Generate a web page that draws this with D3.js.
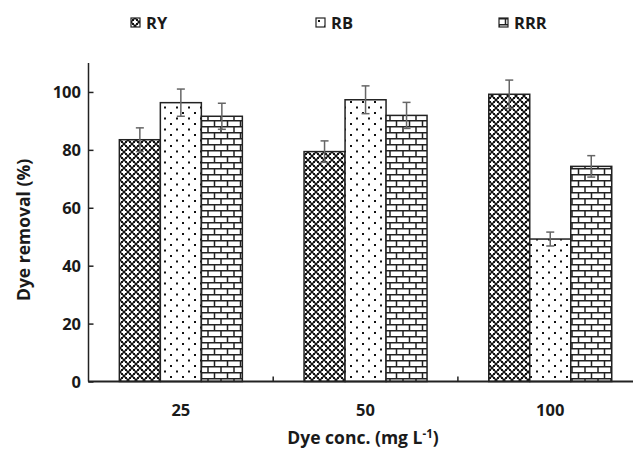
<!DOCTYPE html>
<meta charset="utf-8">
<html>
<script src="https://cdn.jsdelivr.net/npm/d3@7"></script>
<style>
body { margin: 0; background: #fff; }
svg text { font-family: "Open Sans", sans-serif; font-weight: 700; fill: #1a1a1a; }
</style>
<body>
<svg id="chart" width="633" height="451"></svg>
<script type="text/javascript">

// data
var categories = ["25", "50", "100"];
var seriesNames = ["RY", "RB", "RRR"];
var ryValues  = [83.5, 79.4, 99.2];
var rbValues  = [96.3, 97.3, 49.2];
var rrrValues = [91.6, 91.9, 74.3];
var ryErr  = [4.1, 3.7, 4.9];
var rbErr  = [4.7, 4.8, 2.4];
var rrrErr = [4.5, 4.5, 3.7];
var yTicks = [0, 20, 40, 60, 80, 100];

var seriesVals = [ryValues, rbValues, rrrValues];
var seriesErr = [ryErr, rbErr, rrrErr];
var patternIds = ["patRY", "patRB", "patRRR"];

var svg = d3.select("#chart");

//////////////////////// patterns ////////////////////////
var defs = svg.append("defs");

// RY: black with white crosses
var p1 = defs.append("pattern").attr("id", "patRY").attr("patternUnits", "userSpaceOnUse")
	.attr("width", 8).attr("height", 8);
p1.append("rect").attr("width", 8).attr("height", 8).attr("fill", "#111");
[[0, 0], [4, 4], [8, 0], [0, 8], [8, 8]].forEach(function(c) {
	p1.append("rect").attr("x", c[0] - 1).attr("y", c[1] - 2.5).attr("width", 2).attr("height", 5).attr("fill", "#fff");
	p1.append("rect").attr("x", c[0] - 2.5).attr("y", c[1] - 1).attr("width", 5).attr("height", 2).attr("fill", "#fff");
});

// RB: sparse dots
var p2 = defs.append("pattern").attr("id", "patRB").attr("patternUnits", "userSpaceOnUse")
	.attr("width", 12).attr("height", 11);
p2.append("rect").attr("width", 12).attr("height", 11).attr("fill", "#fff");
p2.append("rect").attr("x", 2).attr("y", 2).attr("width", 2).attr("height", 2).attr("fill", "#111");
p2.append("rect").attr("x", 8).attr("y", 7.5).attr("width", 2).attr("height", 2).attr("fill", "#111");

// RRR: bricks
var p3 = defs.append("pattern").attr("id", "patRRR").attr("patternUnits", "userSpaceOnUse")
	.attr("width", 26).attr("height", 12);
p3.append("rect").attr("width", 26).attr("height", 12).attr("fill", "#fff");
p3.append("path")
	.attr("d", "M0,0.75H26 M0,6.75H26 M6.5,0V6 M19.5,0V6 M0,6V12 M13,6V12 M26,6V12")
	.attr("stroke", "#222").attr("stroke-width", 1.5).attr("fill", "none");

//////////////////////// scales ////////////////////////
var x = d3.scaleBand().domain(categories).range([88.5, 642.6]).padding(0);
var bw = x.bandwidth();
var xs = d3.scaleBand().domain(seriesNames).range([bw / 2 - 61.5, bw / 2 + 61.5]).padding(0);
var y = d3.scaleLinear().domain([0, 110]).range([381.5, 63]);

//////////////////////// bars ////////////////////////
var g = svg.append("g");
seriesNames.forEach(function(s, si) {
	var rows = categories.map(function(c, ci) {
		return {cat: c, v: seriesVals[si][ci], e: seriesErr[si][ci]};
	});
	g.selectAll(".bar-" + s).data(rows).enter()
		.append("rect")
		.attr("x", function(d) { return x(d.cat) + xs(s); })
		.attr("y", function(d) { return y(d.v); })
		.attr("width", xs.bandwidth())
		.attr("height", function(d) { return y(0) - y(d.v); })
		.attr("fill", "url(#" + patternIds[si] + ")")
		.attr("stroke", "#222").attr("stroke-width", 1.5);

	// error bars
	var eb = g.selectAll(".err-" + s).data(rows).enter().append("g");
	eb.append("line")
		.attr("x1", function(d) { return x(d.cat) + xs(s) + xs.bandwidth() / 2; })
		.attr("x2", function(d) { return x(d.cat) + xs(s) + xs.bandwidth() / 2; })
		.attr("y1", function(d) { return y(d.v - d.e); })
		.attr("y2", function(d) { return y(d.v + d.e); })
		.attr("stroke", "#666").attr("stroke-width", 1.5);
	[-1, 1].forEach(function(k) {
		eb.append("line")
			.attr("x1", function(d) { return x(d.cat) + xs(s) + xs.bandwidth() / 2 - 4; })
			.attr("x2", function(d) { return x(d.cat) + xs(s) + xs.bandwidth() / 2 + 4; })
			.attr("y1", function(d) { return y(d.v + k * d.e); })
			.attr("y2", function(d) { return y(d.v + k * d.e); })
			.attr("stroke", "#666").attr("stroke-width", 1.5);
	});
});

//////////////////////// axes ////////////////////////
var yAxis = d3.axisRight(y).tickValues(yTicks).tickSize(5).tickFormat("");
var yg = svg.append("g").attr("transform", "translate(88.5,0)").call(yAxis);
yg.select(".domain").attr("d", "M0," + y(110) + "V" + y(0)).attr("stroke", "#222").attr("stroke-width", 1.5);
yg.selectAll(".tick line").attr("stroke", "#222").attr("stroke-width", 1.5);

svg.append("g").selectAll("text").data(yTicks).enter()
	.append("text")
	.attr("x", 81).attr("y", function(d) { return y(d) + 6; })
	.attr("text-anchor", "end").attr("font-size", 16.5)
	.text(function(d) { return d; });

// x axis: tick marks between categories
svg.append("line").attr("x1", 88).attr("x2", 633).attr("y1", y(0)).attr("y2", y(0))
	.attr("stroke", "#222").attr("stroke-width", 2);
svg.append("g").selectAll("line").data(categories.slice(1)).enter()
	.append("line")
	.attr("x1", function(d) { return x(d); }).attr("x2", function(d) { return x(d); })
	.attr("y1", y(0)).attr("y2", y(0) - 5)
	.attr("stroke", "#222").attr("stroke-width", 1.5);

svg.append("g").selectAll("text").data(categories).enter()
	.append("text")
	.attr("x", function(d) { return x(d) + bw / 2; }).attr("y", 416)
	.attr("text-anchor", "middle").attr("font-size", 16.5)
	.text(function(d) { return d; });

// axis titles
var xt = svg.append("text").attr("x", 363).attr("y", 444).attr("text-anchor", "middle").attr("font-size", 17.5);
xt.append("tspan").text("Dye conc. (mg L");
xt.append("tspan").attr("dy", -6).attr("font-size", 11.5).text("-1");
xt.append("tspan").attr("dy", 6).text(")");

svg.append("text").attr("transform", "translate(30,230) rotate(-90)")
	.attr("text-anchor", "middle").attr("font-size", 17.5)
	.text("Dye removal (%)");

//////////////////////// legend ////////////////////////
var legendX = [131, 316, 499];
var lg = svg.append("g").selectAll("g").data(seriesNames).enter().append("g")
	.attr("transform", function(d, i) { return "translate(" + legendX[i] + ",18)"; });
lg.append("rect").attr("width", 9).attr("height", 9)
	.attr("fill", function(d, i) { return "url(#" + patternIds[i] + ")"; })
	.attr("stroke", "#222").attr("stroke-width", 1.2);
lg.append("text").attr("x", 15).attr("y", 11).attr("font-size", 16.5)
	.text(function(d) { return d; });

</script>
</body>
</html>
